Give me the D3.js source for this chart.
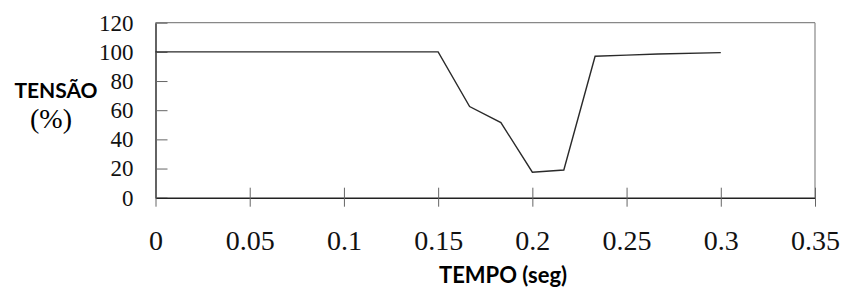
<!DOCTYPE html>
<html>
<head>
<meta charset="utf-8">
<script src="https://d3js.org/d3.v7.min.js"></script>
<style>
  body { margin: 0; background: #fff; }
  .axis path { stroke: #222; stroke-width: 1.4px; }
  .axis line { stroke: #666; stroke-width: 1px; }
</style>
</head>
<body>
<svg width="843" height="288"></svg>
<script>
// voltage sag: time (s) vs voltage (%)
const tempo = [0, 0.15, 0.1667, 0.1833, 0.2, 0.2167, 0.2333, 0.25, 0.2667, 0.3];
const tensao = [100, 100, 62.5, 51.5, 17.5, 19, 97, 97.8, 98.5, 99.5];
const xTicks = [0, 0.05, 0.1, 0.15, 0.2, 0.25, 0.3, 0.35];
const yTicks = [0, 20, 40, 60, 80, 100, 120];

const serif = "'Liberation Serif', 'Times New Roman', serif";
const margin = {left: 155.5, top: 22.7, right: 28, bottom: 90.3};
const svg = d3.select("svg");
const w = 843 - margin.left - margin.right;
const h = 288 - margin.top - margin.bottom;

var x = d3.scaleLinear().domain([0, 0.35]).range([0, w]);
var y = d3.scaleLinear().domain([0, 120]).range([h, 0]);

const g = svg.append("g").attr("transform", "translate(" + margin.left + "," + margin.top + ")");

// top and right frame
g.append("line").attr("x1", 0).attr("x2", w).attr("y1", 0).attr("y2", 0)
  .attr("stroke", "#888").attr("stroke-width", 1.2);
g.append("line").attr("x1", w).attr("x2", w).attr("y1", 0).attr("y2", h)
  .attr("stroke", "#888").attr("stroke-width", 1.2);

// y axis, ticks cross the line
const ya = g.append("g").attr("class", "axis")
  .call(d3.axisLeft(y).tickValues(yTicks).tickSize(12).tickPadding(10).tickSizeOuter(0));
ya.attr("font-family", serif);
ya.selectAll(".tick line").attr("x2", 12);
ya.selectAll(".tick text").attr("font-family", serif).attr("font-size", 23).attr("fill", "#111");

// x axis
const xa = g.append("g").attr("class", "axis").attr("transform", "translate(0," + h + ")")
  .call(d3.axisBottom(x).tickValues(xTicks).tickFormat(d => d3.format("")(d)).tickSize(9).tickPadding(23).tickSizeOuter(0));
xa.attr("font-family", serif);
xa.selectAll(".tick line").attr("y1", -10);
xa.selectAll(".tick text").attr("font-family", serif).attr("font-size", 28).attr("fill", "#111");

// data line
const pts = tempo.map((t, i) => [t, tensao[i]]);
g.append("path")
  .datum(pts)
  .attr("fill", "none")
  .attr("stroke", "#2a2a2a")
  .attr("stroke-width", 1.4)
  .attr("d", d3.line().x(d => x(d[0])).y(d => y(d[1])));

// axis titles
svg.append("text").attr("x", 56).attr("y", 97.5)
  .attr("text-anchor", "middle")
  .attr("font-family", "Lato, 'Open Sans', sans-serif").attr("font-weight", "bold").attr("font-size", 21)
  .text("TENSÃO");
svg.append("text").attr("x", 51).attr("y", 128)
  .attr("text-anchor", "middle")
  .attr("font-family", serif).attr("font-size", 28)
  .text("(%)");
svg.append("text").attr("x", 503).attr("y", 283)
  .attr("text-anchor", "middle")
  .attr("font-family", "Lato, 'Open Sans', sans-serif").attr("font-weight", "bold").attr("font-size", 22)
  .text("TEMPO (seg)");
</script>
</body>
</html>
